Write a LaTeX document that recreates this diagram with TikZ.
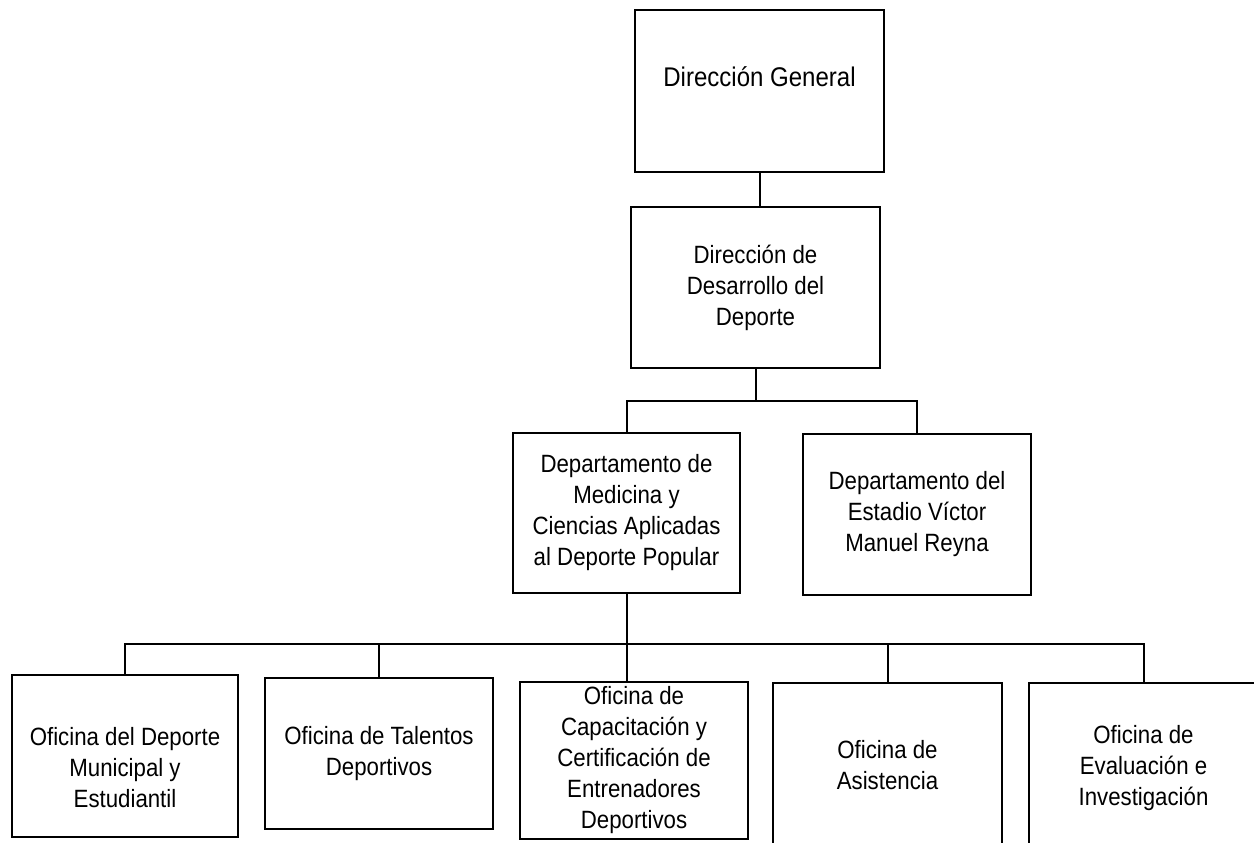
\documentclass[tikz,border=0pt]{standalone}
\usepackage{fontspec}
\setmainfont{Liberation Sans}[FakeStretch=0.89]
\usepackage{tikz}

\begin{document}
\begin{tikzpicture}[x=0.5pt, y=-0.5pt,
  box/.style={draw, line width=1.3pt, align=center, inner sep=0pt,
    font=\fontsize{12.5}{15.5}\selectfont},
  link/.style={line width=1pt}]
  \useasboundingbox (0,0) rectangle (1254,842);
  \clip (0,0) rectangle (1254,842);
  \node[box, minimum width=124.5pt, minimum height=81pt, font=\fontsize{13.5}{16}\selectfont,
    text height=10pt, text depth=14.7pt] (gen) at (759.5,91) {Dirección General};
  \node[box, minimum width=124.5pt, minimum height=80.5pt] (dds) at (755.5,287.5)
    {Dirección de\\Desarrollo del\\Deporte};
  \node[box, minimum width=113.5pt, minimum height=80pt] (med) at (626.5,513)
    {Departamento de\\Medicina y\\Ciencias Aplicadas\\al Deporte Popular};
  \node[box, minimum width=114pt, minimum height=80.5pt] (est) at (917,514.5)
    {Departamento del\\Estadio Víctor\\Manuel Reyna};
  \node[box, minimum width=113pt, minimum height=81pt, text height=51.1pt, text depth=0pt]
    (o1) at (125,756) {Oficina del Deporte\\Municipal y\\Estudiantil};
  \node[box, minimum width=114pt, minimum height=75.5pt] (o2) at (379,753.5)
    {Oficina de Talentos\\Deportivos};
  \node[box, minimum width=114pt, minimum height=78.5pt] (o3) at (634,760.5)
    {Oficina de\\Capacitación y\\Certificación de\\Entrenadores\\Deportivos};
  \node[box, minimum width=114.5pt, minimum height=82pt] (o4) at (887.5,765)
    {Oficina de\\Asistencia};
  \node[box, minimum width=114.5pt, minimum height=85pt] (o5) at (1143.5,768)
    {Oficina de\\Evaluación e\\Investigación};
  \coordinate (bus1) at (755.5,401);
  \coordinate (bus2) at (626.5,644);
  \draw[link] (gen.south) -- (gen.south |- dds.north);
  \draw[link] (dds.south) -- (bus1);
  \draw[link] (med.north) |- (bus1) -| (est.north);
  \draw[link] (med.south) -- (bus2);
  \draw[link] (o1.north) |- (bus2) -| (o5.north);
  \draw[link] (bus2) -- (bus2 |- o3.north);
  \draw[link] (o2.north) -- (o2.north |- bus2);
  \draw[link] (o4.north) -- (o4.north |- bus2);
\end{tikzpicture}
\end{document}
